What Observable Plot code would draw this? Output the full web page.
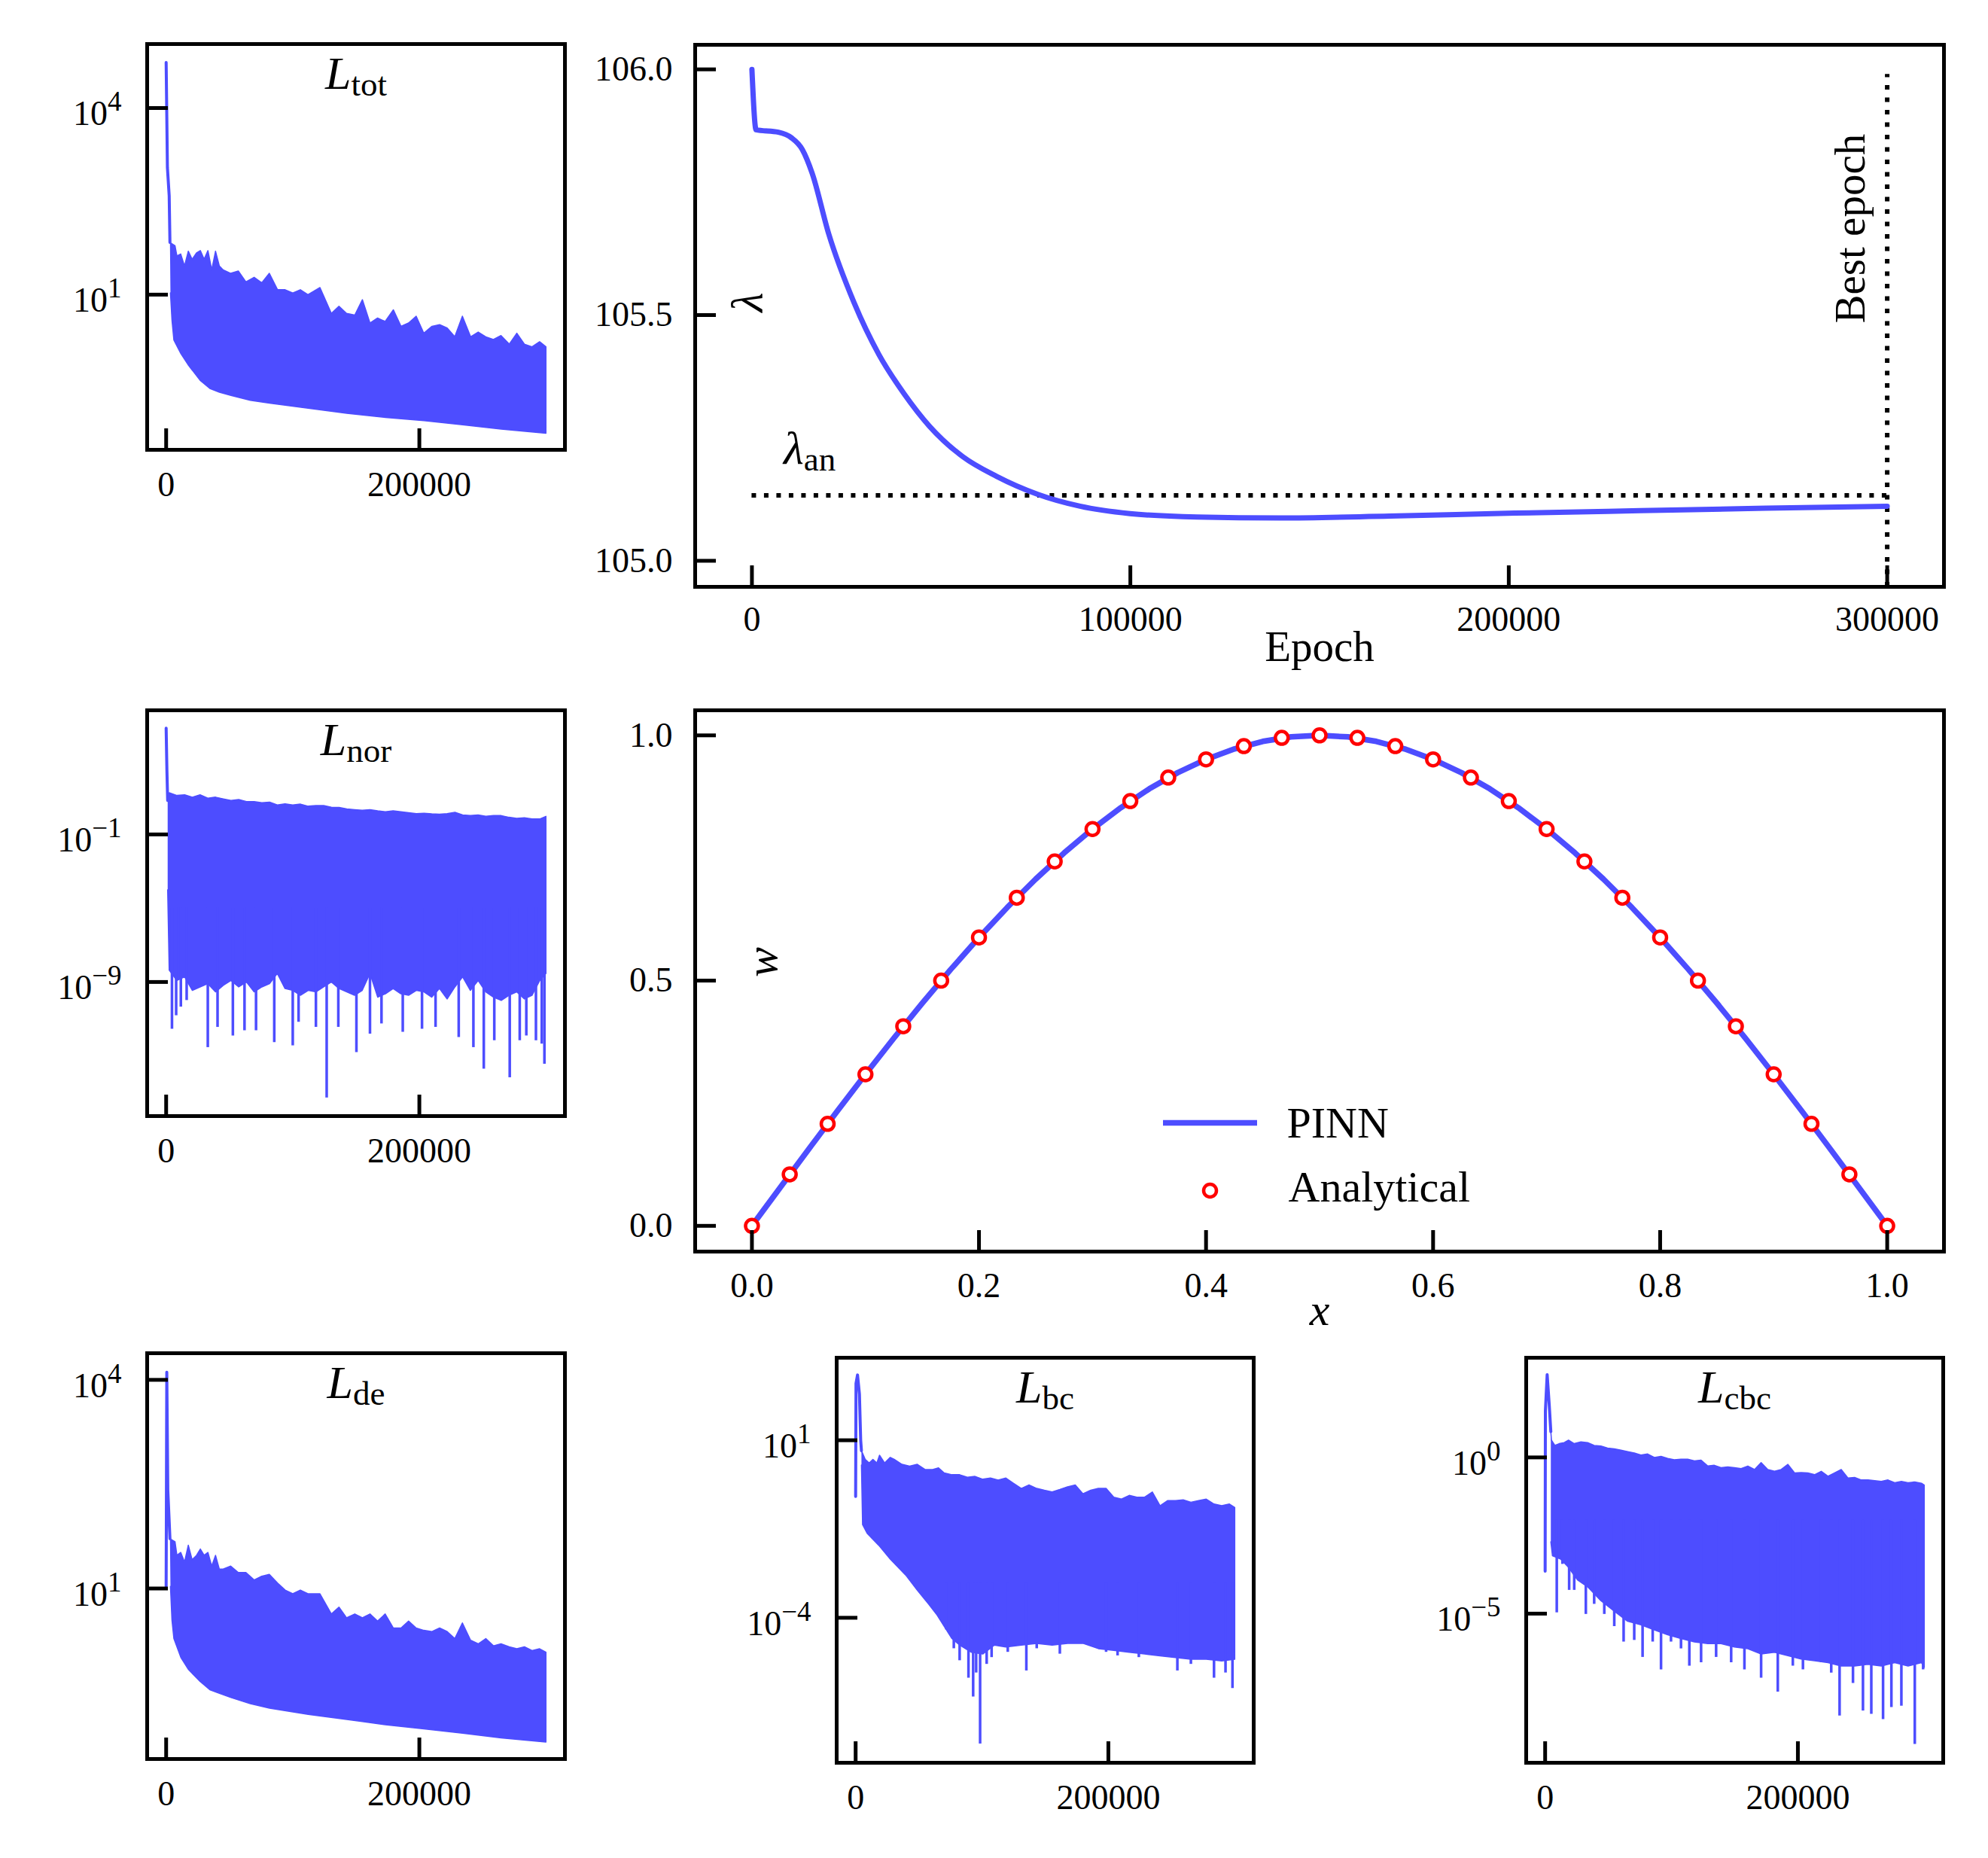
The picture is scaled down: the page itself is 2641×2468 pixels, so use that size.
<!DOCTYPE html>
<html><head><meta charset="utf-8">
<script src="https://cdn.jsdelivr.net/npm/d3@7"></script>
<script src="https://cdn.jsdelivr.net/npm/@observablehq/plot@0.6"></script>
<style>
body{margin:0;background:#fff;}
#fig{position:relative;width:2641px;height:2468px;background:#fff;overflow:hidden;}
</style></head><body><div id="fig"></div><script>
// ---------------- data ----------------
const lossEpochTicks = [0, 200000];
const lamEpochTicks = [0, 100000, 200000, 300000];
const lamTicks = [105.0, 105.5, 106.0];
const xTicksW = [0, 0.2, 0.4, 0.6, 0.8, 1.0];
const wTicks = [0, 0.5, 1.0];

const lamEpoch = [0, 1100, 7000, 10400, 13300, 15900, 20300, 27000, 33600, 40200, 46900, 55700, 64600, 75600, 86700, 99900, 117600, 139700, 168500, 201600, 234800, 268000, 300000];
const lamValue = [106.0, 105.877, 105.872, 105.861, 105.837, 105.789, 105.665, 105.525, 105.419, 105.340, 105.274, 105.212, 105.172, 105.135, 105.111, 105.096, 105.089, 105.087, 105.091, 105.097, 105.102, 105.107, 105.111];
const lamAnalytical = 105.133;
const bestEpoch = 300000;

const xPinn = [0, 0.025, 0.05, 0.075, 0.1, 0.125, 0.15, 0.175, 0.2, 0.225, 0.25, 0.275, 0.3, 0.325, 0.35, 0.375, 0.4, 0.425, 0.45, 0.475, 0.5, 0.525, 0.55, 0.575, 0.6, 0.625, 0.65, 0.675, 0.7, 0.725, 0.75, 0.775, 0.8, 0.825, 0.85, 0.875, 0.9, 0.925, 0.95, 0.975, 1.0];
const wPinn = [0, 0.0785, 0.1564, 0.2334, 0.309, 0.3827, 0.454, 0.5225, 0.5878, 0.6494, 0.7071, 0.7604, 0.809, 0.8526, 0.891, 0.9239, 0.9511, 0.9724, 0.9877, 0.9969, 1.0, 0.9969, 0.9877, 0.9724, 0.9511, 0.9239, 0.891, 0.8526, 0.809, 0.7604, 0.7071, 0.6494, 0.5878, 0.5225, 0.454, 0.3827, 0.309, 0.2334, 0.1564, 0.0785, 0];
const xAnalytical = [0, 0.0333, 0.0667, 0.1, 0.1333, 0.1667, 0.2, 0.2333, 0.2667, 0.3, 0.3333, 0.3667, 0.4, 0.4333, 0.4667, 0.5, 0.5333, 0.5667, 0.6, 0.6333, 0.6667, 0.7, 0.7333, 0.7667, 0.8, 0.8333, 0.8667, 0.9, 0.9333, 0.9667, 1.0];
const wAnalytical = [0, 0.105, 0.208, 0.309, 0.407, 0.5, 0.588, 0.669, 0.743, 0.809, 0.866, 0.914, 0.951, 0.978, 0.995, 1.0, 0.995, 0.978, 0.951, 0.914, 0.866, 0.809, 0.743, 0.669, 0.588, 0.5, 0.407, 0.309, 0.208, 0.105, 0];
const legendLabels = ["PINN", "Analytical"];

// L_tot
const totHead = [[0, 54000], [1000, 1100], [2400, 390], [3000, 69]];
const totUpper = [[3000, 69], [7000, 61], [8500, 42], [11500, 45], [14500, 29], [17500, 50], [20500, 37], [24000, 47], [27000, 51], [30000, 37], [33000, 51], [36000, 25], [39000, 50], [42000, 29], [45000, 25], [51000, 22], [57000, 24], [63000, 16], [69500, 19], [75500, 15.5], [81500, 22], [88000, 12], [94000, 12], [100000, 10.6], [106000, 12], [112000, 10], [121500, 13], [130500, 5.0], [136500, 6.5], [142500, 5.0], [149000, 4.7], [155000, 8.3], [161000, 3.5], [167000, 4.2], [173000, 3.7], [179500, 5.7], [185500, 3.1], [191500, 3.5], [197500, 4.5], [203500, 2.4], [210000, 3.1], [216000, 3.3], [222000, 2.9], [228000, 2.1], [234000, 4.5], [240500, 2.1], [246500, 2.5], [252500, 2.1], [258500, 1.9], [264500, 2.2], [271000, 1.6], [277000, 2.4], [283000, 1.6], [289000, 1.45], [295000, 1.75], [300000, 1.45]];
const totLower = [[3400, 10.7], [4600, 3.9], [6100, 1.86], [11600, 1.13], [17700, 0.73], [26800, 0.42], [34500, 0.31], [42100, 0.27], [51200, 0.24], [66500, 0.20], [81700, 0.18], [112200, 0.149], [142700, 0.124], [173200, 0.106], [203700, 0.094], [234200, 0.081], [264700, 0.069], [300000, 0.059]];

// L_nor
const norHead = [[0, 57000], [600, 300], [1200, 7]];
const norUpper = [[1200, 7], [2400, 18.2], [8500, 13.0], [14600, 14.1], [20700, 10.5], [26800, 14.1], [32900, 9.3], [39000, 10.5], [45100, 8.5], [51200, 6.9], [57300, 7.8], [63400, 6.1], [69500, 6.1], [75600, 5.2], [81700, 5.6], [87800, 4.0], [93900, 4.6], [100000, 4.0], [106100, 4.4], [112200, 3.4], [118300, 3.7], [124400, 3.7], [130500, 3.0], [136600, 2.9], [142700, 2.4], [148800, 2.2], [154900, 2.05], [161000, 2.2], [167100, 1.9], [173200, 1.7], [179300, 1.9], [185400, 1.7], [191500, 1.5], [197600, 1.35], [203700, 1.4], [209800, 1.3], [215900, 1.24], [222000, 1.35], [228100, 1.6], [234200, 1.14], [240300, 1.05], [246400, 1.14], [252500, 0.96], [258600, 1.05], [264700, 1.05], [270800, 0.85], [276900, 0.75], [283000, 0.81], [289000, 0.69], [295100, 0.69], [300000, 0.96]];
const norLower = [[1200, 1e-4], [2400, 4.4e-9], [8500, 1.2e-9], [14600, 1.9e-9], [20700, 3.5e-10], [26800, 5.4e-10], [32900, 8.1e-10], [39000, 2.9e-10], [45100, 6.6e-10], [51200, 1.2e-9], [57300, 5.4e-10], [63400, 1.0e-9], [69500, 2.9e-10], [75600, 5.4e-10], [81700, 8.1e-10], [87800, 2.9e-9], [93900, 4.4e-10], [100000, 3.5e-10], [106100, 1.9e-10], [112200, 3.5e-10], [118300, 2.9e-10], [124400, 5.4e-10], [130500, 1.0e-9], [136600, 4.4e-10], [142700, 2.9e-10], [148800, 1.9e-10], [154900, 3.5e-10], [161000, 2.9e-9], [167100, 1.5e-10], [173200, 2.3e-10], [179300, 4.4e-10], [185400, 2.3e-10], [191500, 1.9e-10], [197600, 3.5e-10], [203700, 2.9e-10], [209800, 1.5e-10], [215900, 4.4e-10], [222000, 1.2e-10], [228100, 5.4e-10], [234200, 1.9e-9], [240300, 3.5e-10], [246400, 1.2e-9], [252500, 2.9e-10], [258600, 1.5e-10], [264700, 1.0e-10], [270800, 1.9e-10], [276900, 2.9e-10], [283000, 1.2e-10], [289000, 1.9e-10], [295100, 1.2e-9], [300000, 2.9e-9]];
const norSpikes = [[4600, 2.8e-12], [7900, 1.5e-11], [11600, 4.4e-11], [16200, 1e-10], [32900, 2.8e-13], [40600, 3.5e-12], [52700, 1.2e-12], [61900, 2.3e-12], [71000, 2.3e-12], [85400, 5.2e-13], [100000, 3.5e-13], [104600, 6.6e-12], [118300, 3.5e-12], [126800, 5.2e-16], [136000, 3.5e-12], [150300, 1.5e-13], [161000, 1.5e-12], [170100, 5.4e-12], [186900, 1.9e-12], [202100, 2.8e-12], [212800, 3.5e-12], [231100, 1e-12], [242700, 2.8e-13], [250900, 1.9e-14], [259200, 6.6e-13], [271400, 6.5e-15], [279300, 6.6e-13], [284500, 1.2e-12], [292100, 6.6e-13], [296700, 4.3e-13], [298800, 3.5e-14]];

// L_de
const deHead = [[0, 10.7], [500, 12900], [1300, 260], [3000, 52]];
const deUpper = [[3000, 52], [7000, 47], [8500, 30], [11500, 33], [14500, 24], [17500, 42], [20500, 26], [24000, 30], [27000, 37], [30000, 30], [33000, 33], [36000, 21], [39000, 30], [42000, 19], [45000, 19], [51000, 21], [57000, 17], [63000, 17], [69500, 13.3], [75500, 15], [81500, 16], [88000, 12], [94000, 9.5], [100000, 8.4], [106000, 9.5], [112000, 8.4], [121500, 8.4], [130500, 4.3], [136500, 5.4], [142500, 3.8], [149000, 4.3], [155000, 3.8], [161000, 4.3], [167000, 3.4], [173000, 4.3], [179500, 2.7], [185500, 2.7], [191500, 3.4], [197500, 2.7], [203500, 2.5], [210000, 2.4], [216000, 2.7], [222000, 2.4], [228000, 1.9], [234000, 3.2], [240500, 1.8], [246500, 1.6], [252500, 1.9], [258500, 1.5], [264500, 1.6], [271000, 1.45], [277000, 1.36], [283000, 1.45], [289000, 1.28], [295000, 1.36], [300000, 1.21]];
const deLower = [[3400, 10.7], [4600, 3.5], [6100, 1.91], [11600, 1.02], [17700, 0.68], [26800, 0.46], [34500, 0.35], [42100, 0.31], [51200, 0.27], [66500, 0.22], [81700, 0.19], [112200, 0.155], [142700, 0.131], [173200, 0.110], [203700, 0.096], [234200, 0.083], [264700, 0.071], [300000, 0.062]];

// L_bc
const bcHead = [[0, 0.26], [300, 400], [1500, 690], [3000, 200], [4000, 10], [4600, 5.1]];
const bcUpper = [[4600, 5.1], [7600, 2.9], [10700, 2.3], [13700, 2.9], [16800, 2.3], [18900, 3.8], [22900, 2.3], [27400, 3.3], [30500, 2.9], [36600, 2.1], [42700, 1.87], [48800, 2.1], [54900, 1.5], [61000, 1.5], [65600, 1.67], [70100, 1.2], [76200, 1.07], [82300, 1.07], [88400, 0.91], [94500, 0.96], [100600, 0.80], [106700, 0.86], [112800, 0.76], [118900, 0.86], [125000, 0.61], [131100, 0.44], [137200, 0.55], [143300, 0.44], [149400, 0.39], [155500, 0.35], [161600, 0.41], [167700, 0.49], [173800, 0.55], [179900, 0.31], [186000, 0.39], [192100, 0.44], [198200, 0.44], [204300, 0.25], [210400, 0.22], [216500, 0.28], [222600, 0.25], [228700, 0.25], [234800, 0.35], [240900, 0.143], [247000, 0.20], [253100, 0.20], [259200, 0.21], [265300, 0.18], [271400, 0.20], [277500, 0.22], [283600, 0.16], [289700, 0.143], [295800, 0.16], [300000, 0.128]];
const bcLower = [[4600, 2.0], [5500, 0.042], [9100, 0.024], [18300, 0.011], [27400, 4.5e-3], [39600, 1.6e-3], [48800, 6.0e-4], [57900, 2.4e-4], [64000, 1.26e-4], [70100, 5.7e-5], [76200, 2.6e-5], [82300, 1.7e-5], [91500, 1.07e-5], [100600, 9.5e-6], [109800, 1.7e-5], [118900, 1.5e-5], [131100, 1.7e-5], [143300, 1.9e-5], [155500, 1.7e-5], [167700, 1.9e-5], [179900, 1.9e-5], [192100, 1.35e-5], [204300, 1.2e-5], [216500, 1.07e-5], [228700, 9.5e-6], [240900, 8.5e-6], [253100, 7.6e-6], [265300, 6.8e-6], [277500, 6.8e-6], [289700, 6.1e-6], [300000, 6.8e-6]];
const bcSpikes = [[71700, 4.6e-5], [77700, 1.35e-5], [82300, 6.2e-6], [89300, 2.0e-6], [93000, 5.9e-7], [95400, 2.8e-6], [98500, 2.8e-8], [103700, 4.9e-6], [107600, 7.6e-6], [120400, 1.07e-5], [135100, 3.2e-6], [143300, 1.35e-5], [161600, 9.5e-6], [198200, 1.07e-5], [207300, 8.5e-6], [224100, 7.6e-6], [254600, 3.2e-6], [265300, 4.9e-6], [283600, 2.0e-6], [292700, 2.8e-6], [298200, 1.02e-6]];

// L_cbc
const cbcHead = [[0, 2.3e-4], [200, 31], [1600, 447], [3200, 51], [4500, 6.7]];
const cbcUpper = [[4500, 6.7], [5000, 3.56], [7700, 2.43], [11100, 2.76], [15100, 2.98], [18500, 3.56], [23000, 2.76], [28300, 3.14], [33600, 2.98], [38800, 2.43], [44100, 2.31], [49400, 1.99], [54700, 1.89], [60000, 1.71], [65300, 1.54], [70500, 1.39], [75800, 1.19], [81100, 1.29], [86400, 1.0], [91700, 1.08], [97000, 0.93], [102200, 0.84], [107500, 0.88], [112800, 0.88], [118100, 0.78], [123400, 0.82], [128700, 0.53], [133900, 0.56], [139200, 0.47], [144500, 0.50], [149800, 0.47], [155100, 0.44], [160400, 0.53], [165700, 0.41], [170900, 0.68], [176200, 0.41], [181500, 0.36], [186800, 0.41], [192100, 0.60], [197400, 0.32], [202600, 0.33], [207900, 0.32], [213200, 0.28], [218500, 0.36], [223800, 0.25], [229100, 0.32], [234300, 0.41], [239600, 0.22], [244900, 0.23], [250200, 0.19], [255500, 0.19], [260800, 0.18], [266000, 0.17], [271300, 0.19], [276600, 0.156], [281900, 0.17], [287200, 0.156], [292500, 0.164], [297800, 0.149], [300000, 0.131]];
const cbcLower = [[4500, 2e-3], [5800, 7.1e-4], [12400, 5.5e-4], [17700, 3.3e-4], [25600, 1.2e-4], [33600, 7.2e-5], [44100, 2.6e-5], [54700, 1.2e-5], [65300, 5.7e-6], [75800, 4.4e-6], [86400, 3.0e-6], [97000, 2.1e-6], [107500, 1.6e-6], [118100, 1.24e-6], [128700, 1.1e-6], [139200, 1.1e-6], [149800, 8.5e-7], [160400, 7.5e-7], [170900, 5.1e-7], [181500, 5.8e-7], [192100, 4.5e-7], [202600, 3.5e-7], [213200, 3.1e-7], [223800, 2.7e-7], [234300, 2.1e-7], [244900, 2.1e-7], [255500, 2.4e-7], [266000, 2.1e-7], [276600, 2.7e-7], [287200, 2.1e-7], [297800, 2.7e-7], [300000, 1.9e-7]];
const cbcSpikes = [[9200, 1.07e-5], [13700, 3.8e-4], [19000, 5.6e-5], [23000, 5.6e-5], [32200, 9.5e-6], [38800, 2.0e-5], [46800, 9.5e-6], [54700, 3.9e-6], [62100, 1.24e-6], [70500, 1.4e-6], [77100, 4.0e-7], [85100, 1.24e-6], [91700, 1.6e-7], [99600, 1.24e-6], [107500, 7.5e-7], [114100, 2.1e-7], [123400, 2.7e-7], [135300, 4.0e-7], [147200, 2.7e-7], [157700, 1.6e-7], [170900, 8.7e-8], [184100, 3.1e-8], [196000, 2.1e-7], [204000, 1.6e-7], [218500, 2.7e-7], [226400, 1.26e-7], [233000, 5.3e-9], [243600, 5.9e-8], [251500, 7.7e-9], [258100, 6.0e-9], [267400, 4.1e-9], [274000, 1.0e-8], [281900, 1.1e-8], [292500, 6.6e-10], [299100, 1.6e-7]];

// ---------------- drawing ----------------
const W = 2641, H = 2468;
const FONT = "'Liberation Serif','Times New Roman',serif";
const BLUE = "#4d4dff";
const TICK = 28, TW = 5;
const TICKFS = 46;
const fig = document.getElementById("fig");

function richText(svg) {
  d3.select(svg).selectAll("text").each(function () {
    const s = this.textContent;
    const el = d3.select(this);
    let m;
    if ((m = s.match(/^(.*)\^(.*)$/))) {
      el.text(null);
      el.append("tspan").text(m[1]);
      el.append("tspan").attr("font-size", 37).attr("dy", -19).text(m[2]);
    } else if ((m = s.match(/^(.*)_(.*)$/))) {
      el.text(null);
      el.append("tspan").attr("font-style", "italic").text(m[1]);
      el.append("tspan").attr("font-size", 45).attr("dy", 9).text(m[2]);
    }
  });
}

function addPlot(frame, xScale, yScale, marks) {
  const [x0, y0, x1, y1] = frame;
  const svg = Plot.plot({
    width: W, height: H,
    marginLeft: x0, marginTop: y0, marginRight: W - x1, marginBottom: H - y1,
    x: {...xScale, axis: null},
    y: {...yScale, axis: null},
    style: `background:transparent;font-family:${FONT};color:black;overflow:visible;position:absolute;left:0;top:0;`,
    marks
  });
  richText(svg);
  fig.appendChild(svg);
}

function ticksAndFrame(frame, xt, yt) {
  const [x0, y0, x1, y1] = frame;
  return [
    Plot.ruleX(xt, {x: d => d, insetTop: (y1 - y0) - TICK, stroke: "black", strokeWidth: TW}),
    Plot.ruleY(yt, {y: d => d, insetRight: (x1 - x0) - TICK, stroke: "black", strokeWidth: TW}),
    Plot.frame({stroke: "black", strokeWidth: 5})
  ];
}

const expLabel = d => "10^" + String(Math.round(Math.log10(d))).replace("-", "\u2212");
const T = {lineAnchor: "middle", fill: "black"};

function lossPanel(frame, expDomain, yt, p) {
  const poly = p.upper.concat(p.lower.slice().reverse());
  const marks = [
    Plot.line(poly, {x: d => d[0], y: d => d[1], fill: BLUE, stroke: BLUE, strokeWidth: 1.5})
  ];
  if (p.spikes) marks.push(Plot.ruleX(p.spikes, {x: d => d[0], y1: d => d[1], y2: p.spikeBase, stroke: BLUE, strokeWidth: 3.5}));
  marks.push(Plot.line(p.head, {x: d => d[0], y: d => d[1], stroke: BLUE, strokeWidth: 4}));
  marks.push(...ticksAndFrame(frame, lossEpochTicks, yt));
  marks.push(Plot.text(lossEpochTicks, {...T, x: d => d, text: d => String(d), frameAnchor: "bottom", dy: 47, fontSize: TICKFS}));
  marks.push(Plot.text(yt, {...T, y: d => d, text: expLabel, frameAnchor: "left", dx: -34, dy: 8, textAnchor: "end", fontSize: TICKFS}));
  marks.push(Plot.text([p.title], {...T, text: d => d, frameAnchor: "top", dy: 40, fontSize: 62}));
  addPlot(frame,
    {type: "linear", domain: [-15000, 315000]},
    {type: "log", domain: [Math.pow(10, expDomain[0]), Math.pow(10, expDomain[1])]},
    marks);
}

lossPanel([195, 58, 750, 597], [-1.495, 5.029], [1e1, 1e4], {title: "L_tot", head: totHead, upper: totUpper, lower: totLower});
lossPanel([195, 943, 750, 1482], [-16.27, 5.73], [1e-9, 1e-1], {title: "L_nor", head: norHead, upper: norUpper, lower: norLower, spikes: norSpikes, spikeBase: 1e-5});
lossPanel([195, 1797, 750, 2336], [-1.452, 4.383], [1e1, 1e4], {title: "L_de", head: deHead, upper: deUpper, lower: deLower});
lossPanel([1111, 1803, 1665, 2341], [-8.084, 3.324], [1e-4, 1e1], {title: "L_bc", head: bcHead, upper: bcUpper, lower: bcLower, spikes: bcSpikes, spikeBase: 1e-3});
lossPanel([2027, 1803, 2581, 2341], [-9.773, 3.19], [1e-5, 1e0], {title: "L_cbc", head: cbcHead, upper: cbcUpper, lower: cbcLower, spikes: cbcSpikes, spikeBase: 1e-2});

// lambda panel
{
  const frame = [923, 59, 2582, 779];
  const lamDomain = [104.947, 106.05];
  const lam = lamEpoch.map((e, i) => ({epoch: e, lam: lamValue[i]}));
  addPlot(frame, {type: "linear", domain: [-15000, 315000]}, {type: "linear", domain: lamDomain}, [
    Plot.ruleY([lamAnalytical], {x1: 0, x2: bestEpoch, stroke: "black", strokeWidth: 6, strokeDasharray: "6,10.5"}),
    Plot.ruleX([bestEpoch], {y1: lamDomain[0], y2: 105.99, stroke: "black", strokeWidth: 6, strokeDasharray: "6,10.5"}),
    Plot.line(lam, {x: "epoch", y: "lam", stroke: BLUE, strokeWidth: 7, curve: "monotone-x"}),
    ...ticksAndFrame(frame, lamEpochTicks, lamTicks),
    Plot.text(lamEpochTicks, {...T, x: d => d, text: d => String(d), frameAnchor: "bottom", dy: 44, fontSize: TICKFS}),
    Plot.text(lamTicks, {...T, y: d => d, text: d => d.toFixed(1), frameAnchor: "left", dx: -30, textAnchor: "end", fontSize: TICKFS}),
    Plot.text(["Epoch"], {...T, text: d => d, frameAnchor: "bottom", dy: 80, fontSize: 57}),
    Plot.text(["\u03bb"], {...T, text: d => d, frameAnchor: "left", dx: 70, dy: -5, rotate: -90, fontSize: 60, fontStyle: "italic"}),
    Plot.text(["Best epoch"], {...T, text: d => d, x: bestEpoch, y: 105.676, dx: -48, rotate: -90, fontSize: 57}),
    Plot.text(["\u03bb_an"], {...T, text: d => d, x: 0, y: lamAnalytical, dx: 42, dy: -62, textAnchor: "start", fontSize: 62})
  ]);
}

// w panel
{
  const frame = [923, 943, 2582, 1662];
  const xDom = [-0.05, 1.05], yDom = [-0.0525, 1.0511];
  const xInv = px => xDom[0] + (px - frame[0]) / (frame[2] - frame[0]) * (xDom[1] - xDom[0]);
  const yInv = py => yDom[1] - (py - frame[1]) / (frame[3] - frame[1]) * (yDom[1] - yDom[0]);
  const pinn = xPinn.map((x, i) => ({x, w: wPinn[i]}));
  const ana = xAnalytical.map((x, i) => ({x, w: wAnalytical[i]}));
  addPlot(frame, {type: "linear", domain: xDom}, {type: "linear", domain: yDom}, [
    Plot.line(pinn, {x: "x", y: "w", stroke: BLUE, strokeWidth: 7.5}),
    Plot.dot(ana, {x: "x", y: "w", r: 8.5, stroke: "#ff0000", fill: "white", strokeWidth: 4.5}),
    ...ticksAndFrame(frame, xTicksW, wTicks),
    Plot.text(xTicksW, {...T, x: d => d, text: d => d.toFixed(1), frameAnchor: "bottom", dy: 46, fontSize: TICKFS}),
    Plot.text(wTicks, {...T, y: d => d, text: d => d.toFixed(1), frameAnchor: "left", dx: -30, textAnchor: "end", fontSize: TICKFS}),
    Plot.text(["x"], {...T, text: d => d, frameAnchor: "bottom", dy: 78, fontSize: 60, fontStyle: "italic"}),
    Plot.text(["w"], {...T, text: d => d, frameAnchor: "left", dx: 89, dy: -5, rotate: -90, fontSize: 60, fontStyle: "italic"}),
    // legend
    Plot.ruleY([yInv(1491)], {x1: xInv(1545), x2: xInv(1670), stroke: BLUE, strokeWidth: 7.5}),
    Plot.dot([0], {x: xInv(1607), y: yInv(1581), r: 8.5, stroke: "#ff0000", fill: "white", strokeWidth: 4.5}),
    Plot.text(legendLabels.slice(0, 1), {...T, text: d => d, frameAnchor: "top-left", dx: 786, dy: 549, textAnchor: "start", fontSize: 58}),
    Plot.text(legendLabels.slice(1, 2), {...T, text: d => d, frameAnchor: "top-left", dx: 788, dy: 634, textAnchor: "start", fontSize: 58})
  ]);
}
</script></body></html>
